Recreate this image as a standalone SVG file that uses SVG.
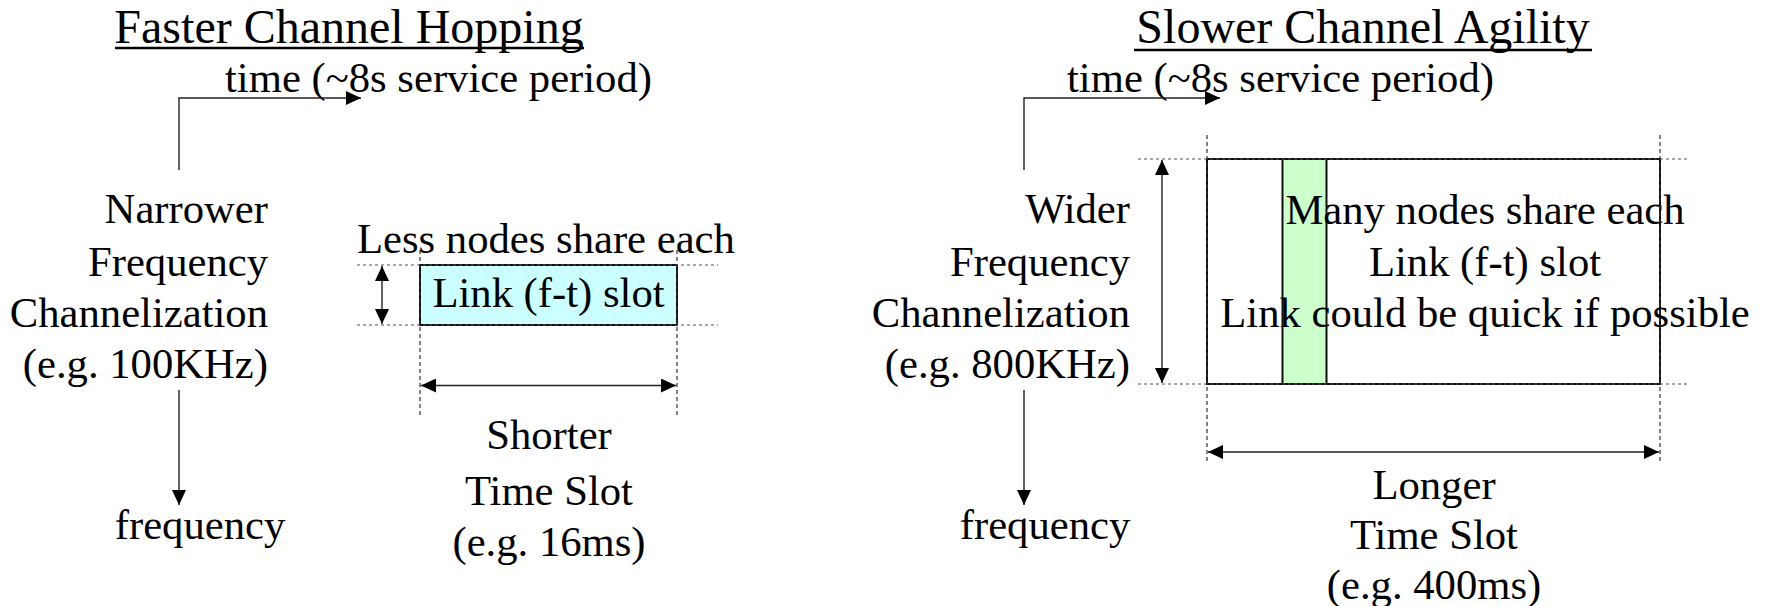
<svg xmlns="http://www.w3.org/2000/svg" width="1767" height="606" viewBox="0 0 1767 606">
<defs>
<style>
text{font-family:"Liberation Serif","Times New Roman",serif;font-size:42.67px;fill:#000}
.title{font-size:48px}
.ax{stroke:#222;stroke-width:1.4;fill:none}
.hg{stroke:#555;stroke-width:1.2;stroke-dasharray:3,3;fill:none}
.vg{stroke:#333;stroke-width:1.2;stroke-dasharray:4,3;fill:none}
.ul{stroke:#000;stroke-width:2.5}
.box{stroke:#111;stroke-width:2}
</style>
<marker id="ah" viewBox="0 0 15 14" refX="15" refY="7" markerWidth="15" markerHeight="14" markerUnits="userSpaceOnUse" orient="auto-start-reverse">
<path d="M0,0 L15,7 L0,14 Z" fill="#000"/>
</marker>
</defs>

<g id="left-title">
<text class="title" x="349" y="43" text-anchor="middle">Faster Channel Hopping</text>
<line class="ul" x1="115" y1="48" x2="584" y2="48"/>
</g>
<g id="left-time-label"><text x="225" y="92">time (~8s service period)</text></g>
<g id="left-freq-label" text-anchor="end">
<text x="268" y="223">Narrower</text>
<text x="268" y="276">Frequency</text>
<text x="268" y="327">Channelization</text>
<text x="268" y="378">(e.g. 100KHz)</text>
</g>
<g id="left-frequency"><text x="200" y="539" text-anchor="middle">frequency</text></g>
<g id="left-share"><text x="357" y="253">Less nodes share each</text></g>
<g id="left-slot">
<rect class="box" x="420" y="265" width="257" height="60" fill="#ccffff"/>
<text x="548.5" y="307" text-anchor="middle">Link (f-t) slot</text>
</g>
<g id="left-time-slot" text-anchor="middle">
<text x="549" y="449">Shorter</text>
<text x="549" y="505">Time Slot</text>
<text x="549" y="556">(e.g. 16ms)</text>
</g>

<g id="right-title">
<text class="title" x="1363" y="43" text-anchor="middle">Slower Channel Agility</text>
<line class="ul" x1="1134" y1="50" x2="1592" y2="50"/>
</g>
<g id="right-time-label"><text x="1067" y="92">time (~8s service period)</text></g>
<g id="right-freq-label" text-anchor="end">
<text x="1130" y="223">Wider</text>
<text x="1130" y="276">Frequency</text>
<text x="1130" y="327">Channelization</text>
<text x="1130" y="378">(e.g. 800KHz)</text>
</g>
<g id="right-frequency"><text x="1045" y="539" text-anchor="middle">frequency</text></g>
<g id="right-slot">
<rect class="box" x="1207" y="159" width="453" height="225" fill="#fff"/>
<rect class="box" x="1282.5" y="159" width="44" height="225" fill="#ccffcc" stroke-width="1.5"/>
<text x="1485" y="224" text-anchor="middle">Many nodes share each</text>
<text x="1485" y="276" text-anchor="middle">Link (f-t) slot</text>
<text x="1485" y="327" text-anchor="middle">Link could be quick if possible</text>
</g>
<g id="right-time-slot" text-anchor="middle">
<text x="1434" y="499">Longer</text>
<text x="1434" y="549">Time Slot</text>
<text x="1434" y="599">(e.g. 400ms)</text>
</g>

<g id="connectors">
<polyline class="ax" points="179,170 179,98 361,98" marker-end="url(#ah)"/>
<line class="ax" x1="179" y1="390" x2="179" y2="505" marker-end="url(#ah)"/>
<line class="hg" x1="357" y1="265" x2="718" y2="265"/>
<line class="hg" x1="357" y1="325" x2="718" y2="325"/>
<line class="vg" x1="420" y1="250" x2="420" y2="417"/>
<line class="vg" x1="677" y1="250" x2="677" y2="417"/>
<line class="ax" x1="382" y1="266" x2="382" y2="324" marker-start="url(#ah)" marker-end="url(#ah)"/>
<line class="ax" x1="421" y1="385.5" x2="676" y2="385.5" marker-start="url(#ah)" marker-end="url(#ah)"/>

<polyline class="ax" points="1024,170 1024,98 1220,98" marker-end="url(#ah)"/>
<line class="ax" x1="1024" y1="390" x2="1024" y2="505" marker-end="url(#ah)"/>
<line class="hg" x1="1138" y1="159" x2="1690" y2="159"/>
<line class="hg" x1="1138" y1="384" x2="1690" y2="384"/>
<line class="vg" x1="1207" y1="135" x2="1207" y2="462"/>
<line class="vg" x1="1660" y1="135" x2="1660" y2="462"/>
<line class="ax" x1="1162" y1="160" x2="1162" y2="383" marker-start="url(#ah)" marker-end="url(#ah)"/>
<line class="ax" x1="1208" y1="452" x2="1659" y2="452" marker-start="url(#ah)" marker-end="url(#ah)"/>
</g>
</svg>
